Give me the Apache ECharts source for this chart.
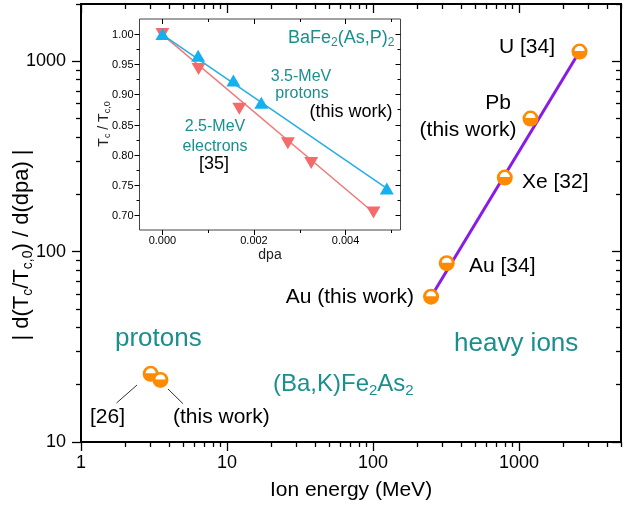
<!DOCTYPE html>
<html>
<head>
<meta charset="utf-8">
<script src="https://cdn.jsdelivr.net/npm/echarts@6/dist/echarts.min.js"></script>
<style>
html,body{margin:0;padding:0;background:#fff;}
#chart{width:624px;height:507px;}
</style>
</head>
<body>
<div id="chart"></div>
<script>
// ---------- data ----------
const protonEnergy = [3.0, 3.5];
const protonRate = [22.8, 21.2];
const heavyEnergy = [250, 320, 800, 1200, 2600];
const heavyRate = [58, 87, 245, 500, 1125];
const fitEnergy = [250, 2600];
const fitRate = [58, 1125];

const dpaProton = [0, 0.00078, 0.00155, 0.00216, 0.0049];
const tcProton = [1.000, 0.964, 0.923, 0.886, 0.744];
const dpaElectron = [0, 0.00079, 0.00168, 0.00274, 0.00325, 0.00461];
const tcElectron = [1.000, 0.942, 0.876, 0.819, 0.786, 0.704];
const fitDpaProton = [0, 0.0049];
const fitTcProton = [0.999, 0.744];
const fitDpaElectron = [0, 0.00461];
const fitTcElectron = [0.999, 0.704];

// tick values
const xMajor = [1, 10, 100, 1000];
const xMinor = [2,3,4,5,6,7,8,9,20,30,40,50,60,70,80,90,200,300,400,500,600,700,800,900,2000,3000,4000,5000];
const yMajor = [10, 100, 1000];
const yMinor = [20,30,40,50,60,70,80,90,200,300,400,500,600,700,800,900,2000];
const inXMajor = [0, 0.002, 0.004];
const inXMinor = [0.001, 0.003, 0.005];
const inYMajor = [0.70, 0.75, 0.80, 0.85, 0.90, 0.95, 1.00];
const inYMinor = [0.725, 0.775, 0.825, 0.875, 0.925, 0.975];

// ---------- helpers ----------
const FONT = '"Liberation Sans", Arial, Helvetica, sans-serif';
const TEAL = '#1a8f8d';
const ORANGE = '#ff8a00';
const zip = (a, b) => a.map((v, i) => [v, b[i]]);

function axis(kind, cfg) {
  const o = {
    type: cfg.type, gridIndex: cfg.grid, position: cfg.pos,
    min: cfg.min, max: cfg.max,
    axisLine: {show: false, onZero: false},
    splitLine: {show: false},
    axisTick: cfg.ticks ? {show: true, inside: !!cfg.inside, length: cfg.len,
      customValues: cfg.ticks, lineStyle: {color: '#000', width: cfg.tickW || 1.3}} : {show: false},
    axisLabel: cfg.labels ? {show: true, customValues: cfg.labels, margin: cfg.margin,
      fontSize: cfg.fontSize, fontFamily: FONT, color: '#000',
      formatter: cfg.fmt} : {show: false}
  };
  if (cfg.type === 'log') o.logBase = 10;
  return o;
}

const logFmt = v => String(Math.round(v));

const xAxes = [
  // main grid
  axis('x', {type:'log', grid:0, pos:'bottom', min:1, max:5000, ticks:xMajor, len:9, labels:xMajor, margin:12, fontSize:18, fmt:logFmt}),
  axis('x', {type:'log', grid:0, pos:'bottom', min:1, max:5000, ticks:xMinor, len:5}),
  axis('x', {type:'log', grid:0, pos:'top', min:1, max:5000, ticks:xMajor, len:9, inside:true}),
  axis('x', {type:'log', grid:0, pos:'top', min:1, max:5000, ticks:xMinor, len:5, inside:true}),
  // inset
  axis('x', {type:'value', grid:1, pos:'bottom', min:-0.0005, max:0.0052, ticks:inXMajor, len:5, labels:inXMajor, margin:5, fontSize:11, fmt:v=>v.toFixed(3), tickW:1}),
  axis('x', {type:'value', grid:1, pos:'bottom', min:-0.0005, max:0.0052, ticks:inXMinor, len:3, tickW:1}),
  axis('x', {type:'value', grid:1, pos:'top', min:-0.0005, max:0.0052, ticks:inXMajor, len:5, inside:true, tickW:1}),
  axis('x', {type:'value', grid:1, pos:'top', min:-0.0005, max:0.0052, ticks:inXMinor, len:3, inside:true, tickW:1})
];
const yAxes = [
  axis('y', {type:'log', grid:0, pos:'left', min:10, max:2000, ticks:yMajor, len:9, labels:yMajor, margin:15, fontSize:18, fmt:logFmt}),
  axis('y', {type:'log', grid:0, pos:'left', min:10, max:2000, ticks:yMinor, len:5}),
  axis('y', {type:'log', grid:0, pos:'right', min:10, max:2000, ticks:yMajor, len:9, inside:true}),
  axis('y', {type:'log', grid:0, pos:'right', min:10, max:2000, ticks:yMinor, len:5, inside:true}),
  // inset y: ticks and labels are placed below from this axis' own scale
  axis('y', {type:'value', grid:1, pos:'left', min:0.675, max:1.025})
];

const HALF = 'path://M0,10 A10,10 0 0 1 20,10 Z';

function txt(text, x, y, size, color, align, opts) {
  opts = opts || {};
  return {
    type: 'text', x: x, y: y, rotation: opts.rot || 0, z: 100,
    style: {
      text: text, fill: color, fontSize: size, fontFamily: FONT,
      align: align, verticalAlign: 'middle',
      lineHeight: opts.lh || Math.round(size * 1.15),
      rich: opts.rich
    }
  };
}
function subRich(size, color) {
  return { s: {fontSize: size, fontFamily: FONT, fill: color, color: color, verticalAlign: 'bottom', lineHeight: Math.round(size * 0.5)} };
}

const graphics = [
  txt('| d(T{s|c}/T{s|c,0}) / d(dpa) |', 22, 245, 22, '#000', 'center', {rot: Math.PI / 2, rich: subRich(14, '#000'), lh: 26}),
  txt('Ion energy (MeV)', 351, 490, 21, '#000', 'center'),
  txt('U [34]', 555, 47, 21, '#000', 'right'),
  txt('Pb', 498, 103, 21, '#000', 'center'),
  txt('(this work)', 468, 130, 21, '#000', 'center'),
  txt('Xe [32]', 522, 182, 21, '#000', 'left'),
  txt('Au [34]', 469, 266, 21, '#000', 'left'),
  txt('Au (this work)', 414, 297, 21, '#000', 'right'),
  txt('protons', 115, 339, 26, TEAL, 'left'),
  txt('heavy ions', 454, 344, 26, TEAL, 'left'),
  txt('(Ba,K)Fe{s|2}As{s|2}', 273, 384, 24, TEAL, 'left', {rich: subRich(15, TEAL), lh: 28}),
  txt('[26]', 90, 417, 21, '#000', 'left'),
  txt('(this work)', 173, 417, 21, '#000', 'left'),
  {type: 'line', z: 100, shape: {x1: 137, y1: 385, x2: 116.5, y2: 403}, style: {stroke: '#333', lineWidth: 1}},
  {type: 'line', z: 100, shape: {x1: 168, y1: 389, x2: 183, y2: 403.7}, style: {stroke: '#333', lineWidth: 1}},
  txt('BaFe{s|2}(As,P){s|2}', 288, 38, 18, TEAL, 'left', {rich: subRich(12, TEAL), lh: 22}),
  txt('3.5-MeV', 301, 77, 16, TEAL, 'center'),
  txt('protons', 302, 94, 16, TEAL, 'center'),
  txt('(this work)', 351, 112, 18, '#000', 'center'),
  txt('2.5-MeV', 215, 127, 16, TEAL, 'center'),
  txt('electrons', 215, 147, 16, TEAL, 'center'),
  txt('[35]', 214, 164, 18, '#000', 'center'),
  txt('T{s|c} / T{s|c,0}', 104, 124, 14, '#222', 'center', {rot: Math.PI / 2, rich: subRich(9, '#222'), lh: 16}),
  txt('dpa', 270, 255, 14, '#222', 'center')
];

function fitMark(xs, ys, color) {
  return {
    silent: true, symbol: ['none', 'none'], label: {show: false},
    lineStyle: {color: color, width: 1.5, type: 'solid'},
    emphasis: {disabled: true},
    data: [[{coord: [xs[0], ys[0]]}, {coord: [xs[1], ys[1]]}]]
  };
}

const option = {
  animation: false,
  backgroundColor: '#fff',
  grid: [
    {left: 81, top: 4, right: 3, bottom: 65, show: true, borderColor: '#000', borderWidth: 2},
    {left: 139.5, top: 19, width: 261, height: 211, show: true, borderColor: '#444', borderWidth: 1, backgroundColor: '#fff'}
  ],
  xAxis: xAxes,
  yAxis: yAxes,
  graphic: graphics,
  series: [
    {type: 'line', xAxisIndex: 0, yAxisIndex: 0, data: zip(fitEnergy, fitRate), symbol: 'none',
      lineStyle: {color: '#8a1be6', width: 3}, z: 2},
    {type: 'scatter', xAxisIndex: 0, yAxisIndex: 0, data: zip(heavyEnergy, heavyRate).concat(zip(protonEnergy, protonRate)),
      symbol: 'circle', symbolSize: 16, itemStyle: {color: ORANGE, opacity: 1}, z: 3},
    {type: 'scatter', xAxisIndex: 0, yAxisIndex: 0, data: zip(heavyEnergy, heavyRate).concat(zip(protonEnergy, protonRate)),
      symbol: HALF, symbolSize: [10, 5], symbolOffset: [0, -3], itemStyle: {color: '#fff', opacity: 1}, z: 4},
    {type: 'scatter', xAxisIndex: 4, yAxisIndex: 4, data: zip(dpaElectron, tcElectron),
      symbol: 'triangle', symbolRotate: 180, symbolSize: [14, 12], itemStyle: {color: '#f36b6b', opacity: 1}, z: 6,
      markLine: fitMark(fitDpaElectron, fitTcElectron, '#f07a78')},
    {type: 'scatter', xAxisIndex: 4, yAxisIndex: 4, data: zip(dpaProton, tcProton),
      symbol: 'triangle', symbolSize: [14, 12], itemStyle: {color: '#14b0ef', opacity: 1}, z: 7,
      markLine: fitMark(fitDpaProton, fitTcProton, '#25aee6')}
  ]
};

const chart = echarts.init(document.getElementById('chart'), null, {renderer: 'canvas'});
chart.setOption(option);

// inset y ticks and labels, positioned through the inset axes' own scales
const xLeft = chart.convertToPixel({xAxisIndex: 4}, -0.0005);
const xRight = chart.convertToPixel({xAxisIndex: 4}, 0.0052);
const extra = [];
function tick(y, len) {
  extra.push({type: 'line', z: 50, shape: {x1: xLeft - len, y1: y, x2: xLeft, y2: y}, style: {stroke: '#000', lineWidth: 1}});
  extra.push({type: 'line', z: 50, shape: {x1: xRight - len, y1: y, x2: xRight, y2: y}, style: {stroke: '#000', lineWidth: 1}});
}
inYMajor.forEach(v => {
  const y = Math.round(chart.convertToPixel({yAxisIndex: 4}, v)) + 0.5;
  tick(y, 5);
  extra.push({type: 'text', z: 50, x: xLeft - 6, y: y,
    style: {text: v.toFixed(2), fill: '#000', fontSize: 11, fontFamily: FONT, align: 'right', verticalAlign: 'middle'}});
});
inYMinor.forEach(v => {
  const y = Math.round(chart.convertToPixel({yAxisIndex: 4}, v)) + 0.5;
  tick(y, 3);
});
chart.setOption({graphic: graphics.concat(extra)});
</script>
</body>
</html>
